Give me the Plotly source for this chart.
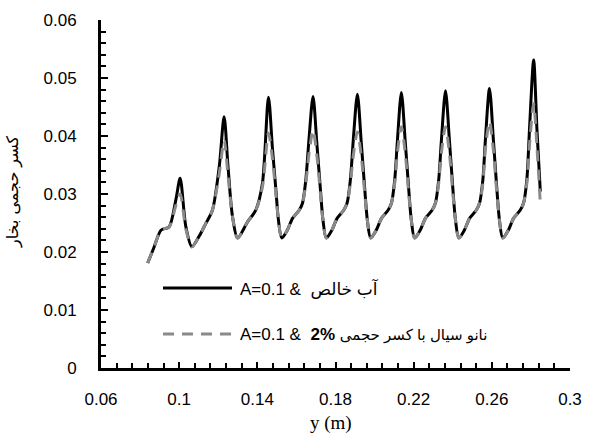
import plotly.graph_objects as go

# y position (m)
y_pos = [0.0839, 0.0870, 0.0908, 0.0948, 0.0983, 0.1005, 0.1034, 0.1065, 0.1102, 0.1136,
         0.1170, 0.1205, 0.1230, 0.1250, 0.1273, 0.1299, 0.1350, 0.1392, 0.1426, 0.1457,
         0.1477, 0.1495, 0.1508, 0.1525, 0.1554, 0.1580, 0.1614, 0.1631, 0.1648, 0.1664,
         0.1685, 0.1705, 0.1723, 0.1736, 0.1753, 0.1782, 0.1808, 0.1842, 0.1859, 0.1876, 0.1891,
         0.1912, 0.1932, 0.1950, 0.1963, 0.1980, 0.2009, 0.2035, 0.2069, 0.2086, 0.2103, 0.2117,
         0.2137, 0.2157, 0.2175, 0.2188, 0.2205, 0.2234, 0.2260, 0.2294, 0.2311, 0.2328, 0.2342,
         0.2363, 0.2383, 0.2401, 0.2414, 0.2431, 0.2460, 0.2486, 0.2520, 0.2537, 0.2554, 0.2567,
         0.2588, 0.2608, 0.2626, 0.2639, 0.2656, 0.2685, 0.2711, 0.2745, 0.2762, 0.2779, 0.2794,
         0.2814, 0.2831, 0.2848]

# pure water, A=0.1
water = [0.0181, 0.0207, 0.0238, 0.0243, 0.0290, 0.0327, 0.0244, 0.0209, 0.0227, 0.0249,
         0.0272, 0.0347, 0.0433, 0.0347, 0.0261, 0.0224, 0.0252, 0.0272, 0.0318, 0.0467,
         0.0380, 0.0307, 0.0255, 0.0224, 0.0238, 0.0258, 0.0272, 0.0284, 0.0324, 0.0393,
         0.0468, 0.0385, 0.0307, 0.0255, 0.0224, 0.0238, 0.0258, 0.0272, 0.0284, 0.0324, 0.0393,
         0.0472, 0.0388, 0.0307, 0.0255, 0.0224, 0.0238, 0.0258, 0.0272, 0.0284, 0.0324, 0.0393,
         0.0475, 0.0390, 0.0307, 0.0255, 0.0224, 0.0238, 0.0258, 0.0272, 0.0284, 0.0324, 0.0393,
         0.0478, 0.0392, 0.0307, 0.0255, 0.0224, 0.0238, 0.0258, 0.0272, 0.0284, 0.0324, 0.0393,
         0.0482, 0.0393, 0.0307, 0.0255, 0.0224, 0.0238, 0.0258, 0.0272, 0.0284, 0.0324, 0.0420,
         0.0531, 0.0410, 0.0304]

# nanofluid 2%, A=0.1
nano = [0.0181, 0.0207, 0.0238, 0.0243, 0.0280, 0.0300, 0.0240, 0.0209, 0.0227, 0.0249,
        0.0272, 0.0335, 0.0393, 0.0332, 0.0261, 0.0224, 0.0252, 0.0272, 0.0312, 0.0405,
        0.0362, 0.0300, 0.0255, 0.0224, 0.0238, 0.0258, 0.0272, 0.0284, 0.0318, 0.0368,
        0.0410, 0.0365, 0.0300, 0.0255, 0.0224, 0.0238, 0.0258, 0.0272, 0.0284, 0.0318, 0.0366,
        0.0407, 0.0365, 0.0300, 0.0255, 0.0224, 0.0238, 0.0258, 0.0272, 0.0284, 0.0318, 0.0372,
        0.0416, 0.0370, 0.0300, 0.0255, 0.0224, 0.0238, 0.0258, 0.0272, 0.0284, 0.0318, 0.0372,
        0.0416, 0.0370, 0.0300, 0.0255, 0.0224, 0.0238, 0.0258, 0.0272, 0.0284, 0.0318, 0.0378,
        0.0425, 0.0375, 0.0300, 0.0255, 0.0224, 0.0238, 0.0258, 0.0272, 0.0284, 0.0318, 0.0390,
        0.0456, 0.0380, 0.0284]

label_water = "A=0.1 &\u00a0\u00a0آب خالص"
label_nano = "A=0.1 &\u00a0\u00a0<b>2%</b> <span style=\"font-size:15px\">نانو سیال با کسر حجمی</span>"
x_title = "y (m)"
y_title = "کسر حجمی بخار"

fig = go.Figure()
fig.add_trace(go.Scatter(x=y_pos, y=water, mode="lines",
                         line=dict(color="black", width=3, shape="spline", smoothing=0.8),
                         showlegend=False))
fig.add_trace(go.Scatter(x=y_pos, y=nano, mode="lines",
                         line=dict(color="#8a8a8a", width=3, shape="spline", smoothing=0.8,
                                   dash="11px,8px"),
                         showlegend=False))

L, R, T, B = 101, 27, 20, 66
W, H = 597, 434
pw, ph = W - L - R, H - T - B

def px(xp):
    return (xp - L) / pw

def py(yp):
    return (H - B - yp) / ph

# manual legend
fig.add_shape(type="line", xref="paper", yref="paper", x0=px(163), x1=px(232),
              y0=py(288), y1=py(288), line=dict(color="black", width=3))
fig.add_shape(type="line", xref="paper", yref="paper", x0=px(163), x1=px(236),
              y0=py(334), y1=py(334), line=dict(color="#8a8a8a", width=3, dash="11px,8px"))
fig.add_annotation(xref="paper", yref="paper", x=px(238), y=py(288), text=label_water,
                   showarrow=False, xanchor="left", yanchor="middle",
                   font=dict(family="Liberation Sans, DejaVu Sans", size=17, color="black"))
fig.add_annotation(xref="paper", yref="paper", x=px(238), y=py(334), text=label_nano,
                   showarrow=False, xanchor="left", yanchor="middle",
                   font=dict(family="Liberation Sans, DejaVu Sans", size=17, color="black"))

# axis titles
fig.add_annotation(xref="paper", yref="paper", x=px(331), y=py(423), text=x_title,
                   showarrow=False, xanchor="center", yanchor="middle",
                   font=dict(family="Liberation Serif", size=19, color="black"))
fig.add_annotation(xref="paper", yref="paper", x=px(13), y=py(192), text=y_title,
                   showarrow=False, xanchor="center", yanchor="middle", textangle=-90,
                   font=dict(family="DejaVu Sans", size=16, color="black"))

fig.update_layout(
    width=W, height=H,
    margin=dict(l=L, r=R, t=T, b=B),
    paper_bgcolor="white", plot_bgcolor="white",
    font=dict(family="Liberation Sans", size=17, color="black"),
    showlegend=False,
)
fig.update_xaxes(range=[0.06, 0.3], tick0=0.06, dtick=0.04, showgrid=False, zeroline=False,
                 showline=True, linecolor="black", linewidth=3,
                 ticks="inside", ticklen=6, tickwidth=2, tickcolor="black",
                 ticklabelstandoff=14,
                 minor=dict(dtick=0.008, tick0=0.06, ticks="inside", ticklen=5, tickwidth=2,
                            tickcolor="black", showgrid=False))
fig.update_yaxes(range=[0, 0.06], tick0=0, dtick=0.01, showgrid=False, zeroline=False,
                 showline=True, linecolor="black", linewidth=3,
                 ticks="inside", ticklen=7, tickwidth=2, tickcolor="black",
                 ticklabelstandoff=18,
                 minor=dict(dtick=0.002, tick0=0, ticks="inside", ticklen=5, tickwidth=2,
                            tickcolor="black", showgrid=False))

fig.write_html("out.html")
